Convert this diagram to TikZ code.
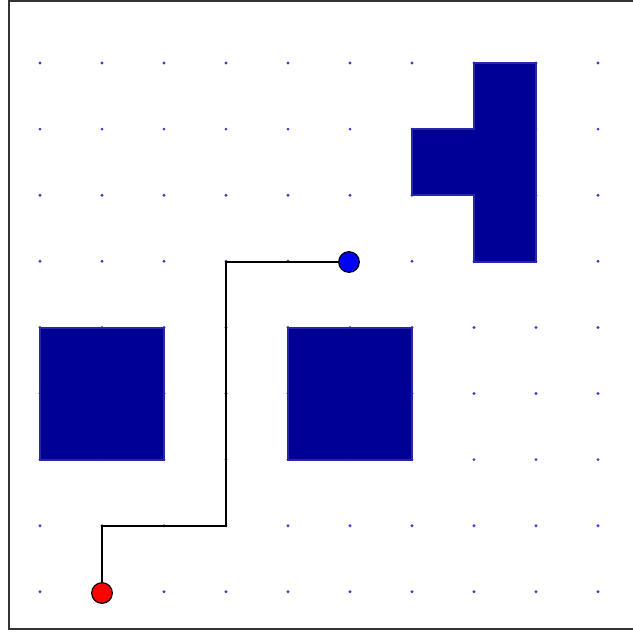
\documentclass[tikz,border=0pt]{standalone}
\begin{document}
\begin{tikzpicture}[x=0.75pt,y=-0.75pt,
  gdot/.style={circle,fill=dotblue,inner sep=0pt,minimum size=2.4pt},
  obst/.style={fill=obstblue,draw=obstblue!85!white,line width=1pt},
  endpt/.style={circle,draw=black,line width=0.9pt,inner sep=0pt,minimum size=15.5pt},
  route/.style={draw=black,line width=2pt}]
\definecolor{dotblue}{RGB}{60,60,210}
\definecolor{obstblue}{RGB}{0,0,150}
\useasboundingbox (0,0) rectangle (633,633);
\draw[line width=2pt,draw=black!80] (9,1) rectangle (640,629);
% grid dots
\foreach \i in {0,...,9}{
  \foreach \j in {0,...,8}{
    \node[gdot] at ({40+62*\i},{63+66.1*\j}) {};
  }
}
% obstacles
\path[obst] (40,328) rectangle (164,460);
\path[obst] (288,328) rectangle (412,460);
\path[obst] (474,63) -- (536,63) -- (536,262) -- (474,262) -- (474,195) -- (412,195) -- (412,129) -- (474,129) -- cycle;
% path
\node[endpt,fill=red] (start) at (102,593) {};
\node[endpt,fill=blue] (goal) at (349,262) {};
\coordinate (c1) at (102,526);
\coordinate (c2) at (226,526);
\coordinate (c3) at (226,262);
\draw[route] (start.north) -- (c1) -- (c2) -- (c3) -- (goal.west);
\end{tikzpicture}
\end{document}
